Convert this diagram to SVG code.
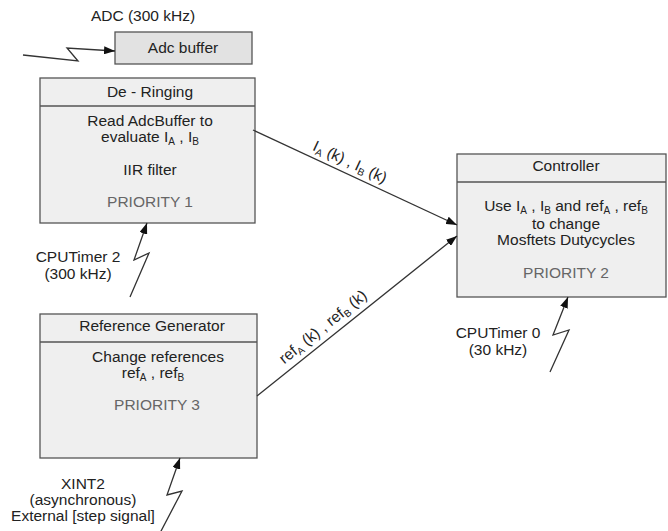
<svg xmlns="http://www.w3.org/2000/svg" width="668" height="531" viewBox="0 0 668 531">
<defs>
<marker id="ah" markerWidth="12" markerHeight="8" refX="11" refY="4" orient="auto" markerUnits="userSpaceOnUse">
<path d="M0,0 L11,4 L0,8 z" fill="#111"/>
</marker>
</defs>
<style>
text{font-family:"Liberation Sans",Arial,sans-serif;font-size:15.5px;fill:#222;text-anchor:middle}
.pri{fill:#666}
.box{fill:#efefef;stroke:#555;stroke-width:1.3}
.dark{fill:#e2e2e2}
.div{stroke:#555;stroke-width:1.3;fill:none}
.con{stroke:#333;stroke-width:1.3;fill:none;marker-end:url(#ah)}
.sub{font-size:10px}
</style>
<rect width="668" height="531" fill="#fff"/>

<g id="adc-label"><text x="143" y="21">ADC (300 kHz)</text></g>

<g id="adc-buffer">
<rect class="box dark" x="115" y="32" width="137" height="32"/>
<text x="183" y="53">Adc buffer</text>
</g>

<g id="de-ringing">
<rect class="box" x="40" y="78" width="215" height="145"/>
<line class="div" x1="40" y1="106" x2="255" y2="106"/>
<text x="150" y="97">De - Ringing</text>
<text x="150" y="126">Read AdcBuffer to</text>
<text x="150" y="142">evaluate I<tspan class="sub" dy="3">A</tspan><tspan dy="-3"> , I</tspan><tspan class="sub" dy="3">B</tspan></text>
<text x="150" y="175">IIR filter</text>
<text class="pri" x="150" y="207">PRIORITY 1</text>
</g>

<g id="controller">
<rect class="box" x="457" y="154" width="209" height="143"/>
<line class="div" x1="457" y1="182" x2="666" y2="182"/>
<text x="566" y="171">Controller</text>
<text x="566" y="211">Use I<tspan class="sub" dy="2.5">A</tspan><tspan dy="-2.5"> , I</tspan><tspan class="sub" dy="2.5">B</tspan><tspan dy="-2.5"> and ref</tspan><tspan class="sub" dy="2.5">A</tspan><tspan dy="-2.5"> , ref</tspan><tspan class="sub" dy="2.5">B</tspan></text>
<text x="566" y="229">to change</text>
<text x="566" y="245">Mosftets Dutycycles</text>
<text class="pri" x="566" y="278">PRIORITY 2</text>
</g>

<g id="reference-generator">
<rect class="box" x="40" y="314" width="217" height="144"/>
<line class="div" x1="40" y1="342" x2="257" y2="342"/>
<text x="152" y="331">Reference Generator</text>
<text x="158" y="362">Change references</text>
<text x="153" y="378">ref<tspan class="sub" dy="3">A</tspan><tspan dy="-3"> , ref</tspan><tspan class="sub" dy="3">B</tspan></text>
<text class="pri" x="157" y="410">PRIORITY 3</text>
</g>

<g id="cputimer2-label">
<text x="78" y="262">CPUTimer 2</text>
<text x="78" y="279">(300 kHz)</text>
</g>

<g id="cputimer0-label">
<text x="498" y="338">CPUTimer 0</text>
<text x="498" y="355">(30 kHz)</text>
</g>

<g id="xint2-label">
<text x="83" y="489">XINT2</text>
<text x="83" y="505">(asynchronous)</text>
<text x="83" y="521">External [step signal]</text>
</g>

<g id="connectors">
<polyline class="con" points="23,55 78,61 67,48 115,51"/>
<line class="con" x1="253" y1="130" x2="457" y2="225"/>
<line class="con" x1="257" y1="396" x2="457" y2="236"/>
<polyline class="con" points="130,297 149,253 134,260 147,223"/>
<polyline class="con" points="160,533 182,491 167,495 180,458"/>
<polyline class="con" points="550,372 569,330 553,335 568,297"/>
<text transform="translate(350,162) rotate(25)" x="0" y="5">I<tspan class="sub" dy="3">A</tspan><tspan dy="-3"> (k) , I</tspan><tspan class="sub" dy="3">B</tspan><tspan dy="-3"> (k)</tspan></text>
<text transform="translate(323,327) rotate(-38.7)" x="0" y="5">ref<tspan class="sub" dy="3">A</tspan><tspan dy="-3"> (k) , ref</tspan><tspan class="sub" dy="3">B</tspan><tspan dy="-3"> (k)</tspan></text>
</g>
</svg>
